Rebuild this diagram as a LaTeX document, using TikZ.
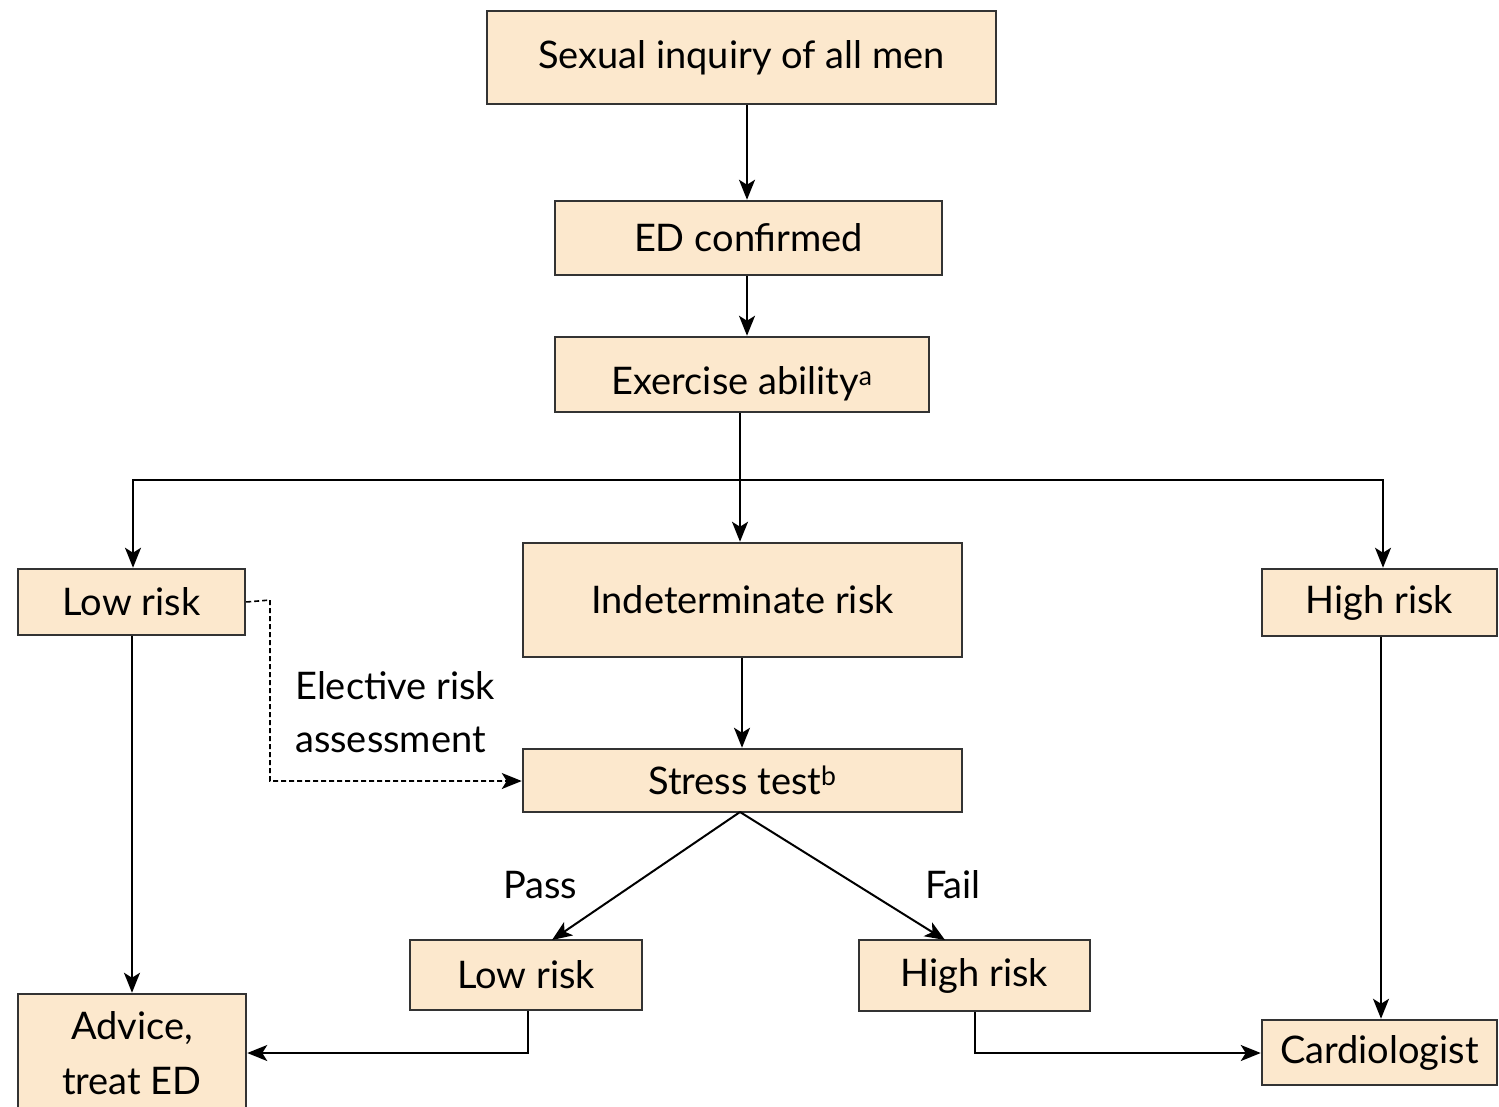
\documentclass[tikz,border=0pt]{standalone}
\usepackage{fontspec}
\setmainfont{Lato}
\usetikzlibrary{arrows.meta}
\definecolor{boxfill}{HTML}{FCE8CD}
\definecolor{boxline}{HTML}{333333}
\tikzset{
  box/.style={draw=boxline, line width=2.5pt, fill=boxfill, inner sep=0pt, align=center,
    font=\fontsize{38}{55}\selectfont, text=black},
  conn/.style={line width=2pt, -{Stealth[length=20pt,width=16pt,inset=5pt]}},
  lab/.style={font=\fontsize{38}{55}\selectfont, inner sep=0pt}
}
\begin{document}
\begin{tikzpicture}[x=1pt,y=-1pt]
\useasboundingbox (0,0) rectangle (1499,1106);
\fill[white] (0,0) rectangle (1499,1106);
% boxes
\node[box, minimum width=509pt, minimum height=93pt] (sex) at (741.5,57.5) {Sexual inquiry of all men};
\node[box, minimum width=387pt, minimum height=74pt] (ed) at (748.5,238) {ED confirmed};
\node[box, minimum width=374pt, minimum height=75pt, text height=42pt, text depth=2pt] (ex) at (742,374.5) {Exercise ability\textsuperscript{a}};
\node[box, minimum width=227pt, minimum height=66pt] (lowL) at (131.5,602) {Low risk};
\node[box, minimum width=439pt, minimum height=114pt] (ind) at (742.5,600) {Indeterminate risk};
\node[box, minimum width=235pt, minimum height=67pt] (highR) at (1379.5,602.5) {High risk};
\node[box, minimum width=439pt, minimum height=63pt] (st) at (742.5,780.5) {Stress test\textsuperscript{b}};
\node[box, minimum width=232pt, minimum height=70pt] (lowM) at (526,975) {Low risk};
\node[box, minimum width=231pt, minimum height=71pt] (highM) at (974.5,975.5) {High risk};
\node[box, minimum width=228pt, minimum height=118pt] (adv) at (132,1053) {Advice,\\treat ED};
\node[box, minimum width=235pt, minimum height=65pt] (card) at (1379.5,1052.5) {Cardiologist};
% coordinates
\coordinate (br) at (740,480);
\coordinate (brL) at (133,480);
\coordinate (brR) at (1383,480);
\coordinate (dA) at (270,600);
\coordinate (dB) at (270,781);
\coordinate (sb) at (740,812);
\coordinate (lmb) at (528,1053);
\coordinate (hmb) at (975,1053);
% connectors
\draw[conn] (sex.south -| 747,0) -- (ed.north -| 747,0);
\draw[conn] (ed.south -| 747,0) -- (ex.north -| 747,0);
\draw[conn] (ex.south -| 740,0) -- (ind.north -| 740,0);
\draw[conn] (br) -- (brL) -- (lowL.north -| brL);
\draw[conn] (br) -- (brR) -- (highR.north -| brR);
\draw[conn] (lowL.south -| 132,0) -- (adv.north -| 132,0);
\draw[conn] (ind.south -| 742,0) -- (st.north -| 742,0);
\draw[conn, line width=1.6pt, dash pattern=on 5pt off 3pt] (lowL.east) -- (dA) -- (dB) -- (st.west |- dB);
\draw[conn] (sb) -- (552,940);
\draw[conn] (sb) -- (945,940);
\draw[conn] (lowM.south -| lmb) -- (lmb) -- (adv.east |- lmb);
\draw[conn] (highM.south -| hmb) -- (hmb) -- (card.west |- hmb);
\draw[conn] (highR.south -| 1381,0) -- (card.north -| 1381,0);
% labels
\node[lab, anchor=west] (el1) at (295,686) {Elective risk};
\node[lab, anchor=west] (el2) at (295,740) {assessment};
\node[lab] (pass) at (540,885) {Pass};
\node[lab] (fail) at (953,885) {Fail};
\end{tikzpicture}
\end{document}
